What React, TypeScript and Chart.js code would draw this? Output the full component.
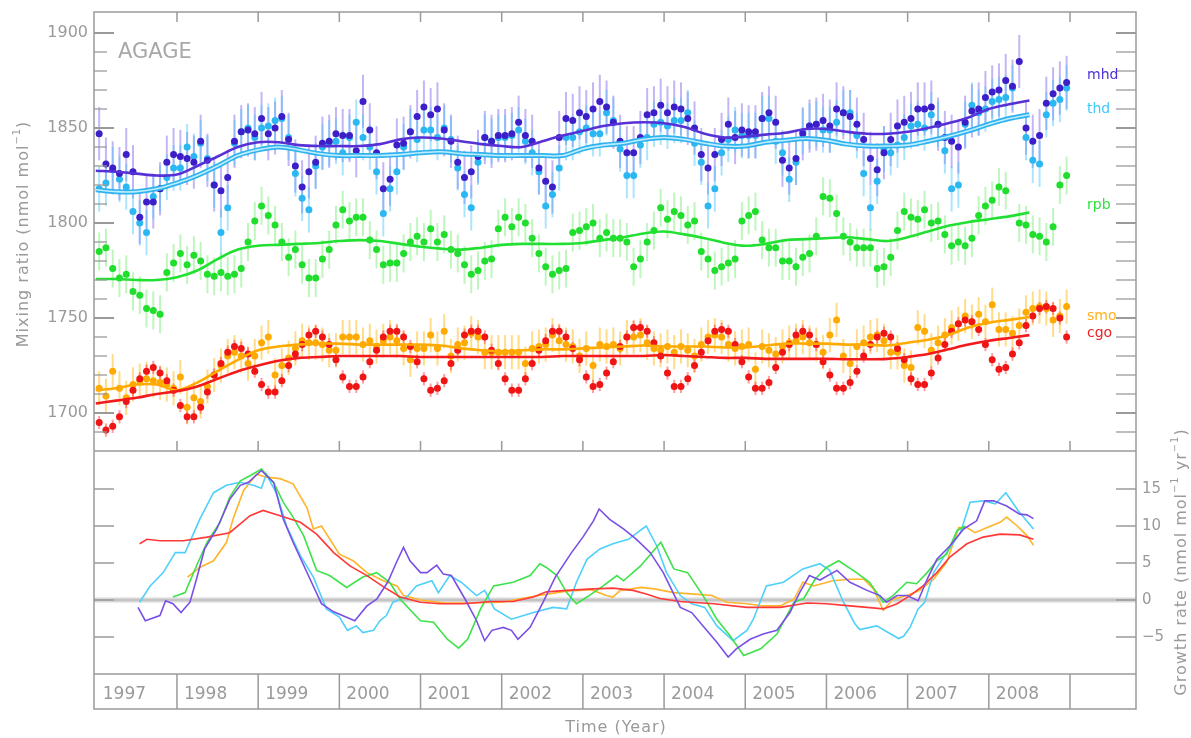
import React, { useEffect, useRef } from 'react';
import { Chart, registerables } from 'chart.js';
Chart.register(...registerables);

// ---------- data ----------
const years = [1997, 1998, 1999, 2000, 2001, 2002, 2003, 2004, 2005, 2006, 2007, 2008];
const stationNames = ['mhd', 'thd', 'rpb', 'smo', 'cgo'];

const mhd = [
  1847, 1831, 1829, 1826, 1836, 1827, 1803, 1811, 1811, 1818, 1832, 1836,
  1835, 1834, 1832, 1843, 1833, 1820, 1817, 1824, 1843, 1848, 1849, 1847,
  1855, 1847, 1850, 1856, 1844, 1830, 1819, 1827, 1832, 1842, 1843, 1847,
  1846, 1846, 1838, 1864, 1849, 1837, 1818, 1823, 1841, 1842, 1848, 1856,
  1861, 1857, 1860, 1849, 1843, 1832, 1824, 1827, 1835, 1845, 1843, 1846,
  1846, 1847, 1853, 1846, 1843, 1829, 1822, 1819, 1845, 1855, 1854, 1858,
  1856, 1860, 1864, 1861, 1853, 1843, 1837, 1837, 1845, 1857, 1858, 1862,
  1858, 1861, 1860, 1855, 1850, 1836, 1829, 1836, 1844, 1852, 1845, 1849,
  1848, 1848, 1855, 1858, 1853, 1833, 1829, 1834, 1847, 1851, 1852, 1854,
  1851, 1860, 1858, 1856, 1852, 1844, 1834, 1828, 1837, 1844, 1851, 1853,
  1855, 1860, 1860, 1861, 1852, 1845, 1843, 1840, 1853, 1859, 1860, 1866,
  1869, 1870, 1875, 1872, 1885, 1850, 1843, 1846, 1863, 1868, 1871, 1874,
];
const thd = [
  1818, 1821, 1828, 1823, 1819, 1806, 1800, 1795, 1814, 1818, 1824, 1829,
  1829, 1840, 1835, 1842, 1834, 1820, 1795, 1808, 1842, 1848, 1850, 1845,
  1850, 1851, 1854, 1855, 1845, 1826, 1813, 1807, 1830, 1840, 1842, 1843,
  1837, 1845, 1853, 1845, 1840, 1827, 1805, 1818, 1827, 1840, 1848, 1844,
  1849, 1849, 1845, 1850, 1844, 1829, 1815, 1808, 1832, 1845, 1843, 1845,
  1845, 1846, 1849, 1843, 1837, 1827, 1809, 1815, 1829, 1845, 1845, 1848,
  1850, 1847, 1847, 1858, 1854, 1839, 1825, 1825, 1841, 1845, 1852, 1853,
  1851, 1854, 1854, 1858, 1842, 1832, 1809, 1818, 1837, 1844, 1849, 1846,
  1846, 1846, 1855, 1855, 1843, 1837, 1823, 1832, 1848, 1851, 1852, 1849,
  1849, 1853, 1858, 1858, 1846, 1826, 1808, 1822, 1839, 1837, 1841, 1845,
  1851, 1852, 1850, 1857, 1852, 1838, 1818, 1820, 1852, 1862, 1858, 1860,
  1864, 1865, 1866, 1871, null, 1845, 1833, 1831, 1857, 1863, 1865, 1871,
];
const rpb = [
  1785, 1787, 1776, 1771, 1773, 1764, 1762, 1755, 1754, 1752, 1774, 1779,
  1784, 1778, 1783, 1780, 1773, 1772, 1774, 1772, 1773, 1776, 1790, 1801,
  1809, 1804, 1799, 1790, 1782, 1786, 1778, 1771, 1771, 1781, 1786, 1799,
  1807, 1801, 1803, 1803, 1791, 1786, 1778, 1779, 1779, 1784, 1790, 1793,
  1790, 1797, 1790, 1794, 1786, 1784, 1778, 1773, 1775, 1780, 1781, 1797,
  1803, 1798, 1803, 1800, 1792, 1784, 1777, 1773, 1775, 1776, 1795, 1796,
  1798, 1800, 1792, 1795, 1792, 1792, 1790, 1777, 1781, 1790, 1796, 1808,
  1802, 1806, 1804, 1799, 1801, 1785, 1781, 1775, 1777, 1779, 1781, 1801,
  1804, 1806, 1791, 1787, 1787, 1780, 1780, 1777, 1782, 1784, 1793, 1814,
  1813, 1805, 1793, 1790, 1787, 1787, 1787, 1776, 1777, 1782, 1796, 1806,
  1803, 1802, 1807, 1800, 1801, 1794, 1788, 1790, 1788, 1792, 1804, 1809,
  1812, 1819, 1817, null, 1800, 1799, 1794, 1793, 1790, 1798, 1820, 1825,
];
const smo = [
  1713, 1709, 1722, 1713, 1708, 1715, 1717, 1718, 1717, 1716, 1715, 1713,
  1719, 1703, 1708, 1706, 1714, 1720, 1725, 1730, 1732, 1730, 1726, 1730,
  1737, 1740, 1720, 1725, 1729, 1734, 1738, 1737, 1737, 1736, 1733, 1733,
  1740, 1740, 1740, 1736, 1738, 1735, 1738, 1740, 1738, 1734, 1728, 1734,
  1734, 1741, 1734, 1743, 1730, 1736, 1737, 1742, 1740, 1732, 1732, 1732,
  1732, 1732, 1732, 1726, 1734, 1735, 1736, 1741, 1738, 1736, 1735, 1730,
  1734, 1725, 1736, 1735, 1736, 1734, 1740, 1740, 1741, 1737, 1734, 1733,
  1735, 1732, 1735, 1733, 1730, 1736, 1740, 1741, 1740, 1736, 1734, 1735,
  1736, 1723, 1735, 1733, 1731, 1735, 1737, 1738, 1740, 1737, 1736, 1732,
  1741, 1749, 1730, 1726, 1735, 1737, 1740, 1741, 1738, 1732, 1732, 1725,
  1724, 1745, 1743, 1733, 1737, 1741, 1745, 1747, 1751, 1748, 1752, 1748,
  1757, 1744, 1744, 1742, 1746, 1753, 1755, 1756, 1755, 1749, 1751, 1756,
];
const cgo = [
  1695, 1691, 1693, 1698, 1706, 1712, 1718, 1722, 1724, 1721, 1717, 1712,
  1704, 1698, 1698, 1703, 1711, 1720, 1726, 1732, 1735, 1734, 1731, 1722,
  1715, 1711, 1711, 1717, 1725, 1731, 1736, 1741, 1743, 1740, 1736, 1728,
  1719, 1714, 1714, 1719, 1727, 1733, 1740, 1743, 1743, 1740, 1735, 1727,
  1718, 1712, 1713, 1717, 1726, 1733, 1741, 1743, 1743, 1740, 1733, 1726,
  1718, 1712, 1712, 1718, 1726, 1733, 1738, 1743, 1743, 1740, 1734, 1728,
  1719, 1714, 1715, 1721, 1727, 1735, 1740, 1745, 1745, 1743, 1737, 1730,
  1721, 1714, 1714, 1718, 1725, 1732, 1738, 1743, 1744, 1743, 1736, 1727,
  1719, 1713, 1713, 1716, 1724, 1732, 1736, 1741, 1743, 1741, 1736, 1727,
  1720, 1713, 1713, 1716, 1722, 1730, 1736, 1740, 1742, 1740, 1734, 1728,
  1718, 1715, 1715, 1721, 1729, 1736, 1743, 1747, 1749, 1748, 1744, 1736,
  1728, 1723, 1724, 1731, 1737, 1746, 1751, 1755, 1756, 1755, 1750, 1740,
];
// half-length of the error bars (nmol/mol) per station
const errHalf = [14, 12, 10, 9, 3.5];

// smoothed trend curves, quarterly from 1997.0 to 2008.5
const trendMhd = [1827.5, 1827, 1826, 1825, 1825.5, 1830, 1835, 1840, 1842.5, 1842.5, 1841, 1840.5,
  1840.5, 1840.5, 1841.5, 1844, 1845, 1844.5, 1843, 1841.5, 1840.5, 1840, 1843, 1846,
  1848.5, 1851, 1852.5, 1853, 1852.5, 1850.5, 1847, 1845, 1845.5, 1846.5, 1847.5, 1849.5,
  1849.5, 1848, 1847, 1847, 1848, 1850, 1852.5, 1855.5, 1860, 1862.5, 1864.5];
const trendThd = [1817.5, 1816.5, 1816.5, 1818, 1821, 1825, 1830, 1835.5, 1838.5, 1840, 1838.5, 1836.5,
  1835.5, 1835.5, 1835.5, 1836, 1837, 1837.5, 1836.5, 1836, 1835.5, 1835.5, 1835.5, 1835.5,
  1839, 1841, 1842, 1844, 1845, 1844, 1842, 1840.5, 1840.5, 1842.5, 1843.5, 1844.5,
  1843.5, 1841.5, 1840.5, 1840.5, 1841, 1843, 1845.5, 1848.5, 1852, 1855, 1857];
const trendRpb = [1770.5, 1770.5, 1770, 1770, 1771.5, 1775, 1781, 1786, 1788, 1788.5, 1789, 1789.5,
  1790.5, 1791, 1790.5, 1789, 1787.5, 1786.5, 1786, 1787, 1788.5, 1789, 1789, 1789,
  1789.5, 1791, 1792.5, 1794.5, 1795.5, 1794, 1792, 1789.5, 1788, 1789, 1791, 1791.5,
  1792, 1792.5, 1791.5, 1790.5, 1792.5, 1795.5, 1798.5, 1800.5, 1802, 1803.5, 1805.5];
const trendSmo = [1712, 1713, 1715, 1715, 1712, 1716, 1722, 1728, 1733, 1735, 1736, 1736.5,
  1736.5, 1736, 1736, 1736, 1736, 1735.5, 1734, 1733, 1732.5, 1733, 1733.5, 1733.5,
  1734, 1734.5, 1735, 1735.5, 1735, 1735, 1735, 1734.5, 1734.5, 1735.5, 1736.5, 1736.5,
  1736.5, 1736, 1736, 1735.5, 1737, 1738.5, 1741, 1745, 1747.5, 1749, 1750.5];
const trendCgo = [1705, 1706.5, 1708, 1710, 1711.5, 1714, 1718, 1722, 1725, 1727.5, 1729, 1729.5,
  1730, 1730, 1730, 1730, 1729.5, 1729.5, 1729.5, 1729.5, 1729.5, 1729.5, 1729.5, 1730,
  1730, 1730, 1730, 1730, 1730.5, 1730, 1729.5, 1729, 1729, 1728.5, 1728.5, 1728.5,
  1728.5, 1728.3, 1728.3, 1728.5, 1729.5, 1731, 1733.5, 1736, 1738, 1739.5, 1741];

// growth rates [year, nmol/mol/yr]
const growthMhd = [[1997.52,-1.0],[1997.61,-2.8],[1997.79,-2.1],[1997.86,-0.1],[1997.95,-0.5],[1998.05,-1.7],[1998.16,-0.3],[1998.24,2.8],[1998.34,6.9],[1998.49,9.6],[1998.65,13.6],[1998.78,15.5],[1998.88,15.9],[1999.04,17.5],[1999.19,15.9],[1999.31,10.9],[1999.43,7.8],[1999.64,2.8],[1999.78,-0.5],[1999.93,-1.6],[2000.19,-2.8],[2000.34,-0.8],[2000.46,0.1],[2000.6,2.5],[2000.7,5.0],[2000.79,7.1],[2000.87,5.3],[2001.0,3.7],[2001.08,3.7],[2001.2,4.7],[2001.28,3.5],[2001.38,3.3],[2001.55,0.1],[2001.69,-2.8],[2001.79,-5.5],[2001.88,-4.1],[2002.02,-3.7],[2002.12,-4.1],[2002.2,-5.3],[2002.35,-3.7],[2002.51,-0.3],[2002.66,3.1],[2002.86,6.4],[2003.0,8.5],[2003.13,10.7],[2003.2,12.3],[2003.33,10.9],[2003.5,9.6],[2003.66,8.2],[2003.83,6.4],[2003.99,3.7],[2004.2,-1.0],[2004.34,-1.7],[2004.48,-3.5],[2004.65,-5.7],[2004.79,-7.7],[2004.89,-6.6],[2005.06,-5.3],[2005.22,-4.6],[2005.39,-4.1],[2005.55,-1.7],[2005.67,1.0],[2005.79,3.3],[2005.92,2.7],[2006.13,4.0],[2006.29,2.4],[2006.5,1.3],[2006.66,0.6],[2006.74,-0.3],[2006.87,0.6],[2006.99,0.6],[2007.13,-0.1],[2007.24,2.8],[2007.36,5.5],[2007.52,7.3],[2007.69,9.6],[2007.85,10.7],[2007.95,13.4],[2008.06,13.4],[2008.22,12.7],[2008.38,11.6],[2008.47,11.5],[2008.55,11.0]];
const growthThd = [[1997.54,-0.3],[1997.67,1.9],[1997.83,3.7],[1997.98,6.4],[1998.1,6.4],[1998.28,10.9],[1998.45,14.5],[1998.61,15.5],[1998.78,15.9],[1998.94,15.5],[1999.04,15.1],[1999.1,17.0],[1999.23,14.3],[1999.35,10.0],[1999.52,6.0],[1999.68,3.1],[1999.84,-1.2],[2000.0,-2.3],[2000.1,-4.1],[2000.21,-3.5],[2000.29,-4.4],[2000.42,-4.1],[2000.5,-2.8],[2000.58,-2.1],[2000.66,-0.3],[2000.75,0.1],[2000.83,0.4],[2000.95,1.9],[2001.14,2.6],[2001.22,1.0],[2001.36,3.3],[2001.5,2.4],[2001.69,0.6],[2001.79,1.3],[2001.91,-1.2],[2002.12,-2.6],[2002.39,-1.7],[2002.63,-1.0],[2002.8,-1.2],[2002.92,2.4],[2003.05,5.5],[2003.21,6.9],[2003.37,7.6],[2003.56,8.2],[2003.78,10.0],[2003.91,7.3],[2004.03,3.7],[2004.2,0.6],[2004.34,-0.5],[2004.5,-1.0],[2004.65,-3.5],[2004.85,-5.5],[2005.02,-4.1],[2005.1,-2.6],[2005.26,1.9],[2005.47,2.4],[2005.71,4.2],[2005.92,4.9],[2006.04,4.0],[2006.21,-0.3],[2006.35,-3.2],[2006.41,-4.0],[2006.62,-3.5],[2006.76,-4.4],[2006.89,-5.2],[2006.95,-4.9],[2007.03,-3.7],[2007.13,-1.2],[2007.21,-0.3],[2007.32,3.7],[2007.48,6.4],[2007.65,9.1],[2007.77,13.2],[2007.93,13.4],[2008.08,13.0],[2008.21,14.5],[2008.36,12.1],[2008.55,9.6]];
const growthRpb = [[1997.95,0.4],[1998.1,1.0],[1998.24,4.6],[1998.37,7.8],[1998.53,10.5],[1998.65,13.9],[1998.78,16.1],[1998.9,16.8],[1999.04,17.7],[1999.19,15.9],[1999.31,13.2],[1999.43,11.2],[1999.56,8.7],[1999.72,4.0],[1999.88,3.3],[2000.09,1.7],[2000.29,3.1],[2000.46,3.7],[2000.62,2.4],[2000.75,0.1],[2001.0,-2.8],[2001.16,-3.0],[2001.33,-5.3],[2001.47,-6.5],[2001.58,-5.3],[2001.74,-1.2],[2001.9,1.9],[2002.14,2.4],[2002.35,3.3],[2002.47,4.9],[2002.55,4.4],[2002.68,3.3],[2002.8,1.0],[2002.92,-0.5],[2003.05,0.4],[2003.25,1.9],[2003.42,3.3],[2003.5,2.6],[2003.71,4.6],[2003.96,7.8],[2004.12,4.2],[2004.29,3.7],[2004.48,0.6],[2004.65,-2.6],[2004.81,-4.8],[2004.98,-7.5],[2005.19,-6.6],[2005.39,-4.6],[2005.6,-0.3],[2005.72,0.2],[2005.86,2.8],[2006.0,4.4],[2006.15,5.3],[2006.37,3.7],[2006.53,2.4],[2006.7,-0.3],[2006.82,0.6],[2006.99,2.4],[2007.11,2.2],[2007.24,3.7],[2007.36,5.3],[2007.48,6.2],[2007.61,9.4],[2007.71,10.0]];
const growthSmo = [[1998.13,3.1],[1998.28,4.4],[1998.45,5.3],[1998.61,7.8],[1998.69,10.9],[1998.82,14.8],[1998.98,17.0],[1999.1,16.6],[1999.27,16.4],[1999.43,15.7],[1999.6,12.5],[1999.68,9.6],[1999.78,10.0],[2000.0,6.2],[2000.17,5.3],[2000.34,3.7],[2000.54,2.6],[2000.71,1.9],[2000.79,0.6],[2001.0,0.0],[2001.3,-0.4],[2001.6,-0.4],[2002.0,-0.3],[2002.4,0.5],[2002.8,1.2],[2003.1,1.4],[2003.29,0.6],[2003.37,0.4],[2003.46,1.3],[2003.6,1.5],[2003.71,1.7],[2003.88,1.5],[2004.12,1.0],[2004.37,0.8],[2004.59,0.6],[2004.77,-0.3],[2005.02,-0.5],[2005.22,-0.8],[2005.43,-0.8],[2005.6,0.1],[2005.71,2.4],[2005.84,1.9],[2006.08,2.6],[2006.29,2.8],[2006.46,2.8],[2006.58,1.5],[2006.7,-1.4],[2006.82,0.1],[2006.99,0.6],[2007.15,1.3],[2007.32,2.8],[2007.48,5.1],[2007.63,9.8],[2007.73,9.8],[2007.83,9.1],[2007.98,9.8],[2008.14,10.5],[2008.22,11.2],[2008.35,10.0],[2008.47,8.7],[2008.55,7.4]];
const growthCgo = [[1997.54,7.6],[1997.63,8.2],[1997.79,8.0],[1998.08,8.0],[1998.37,8.5],[1998.65,9.1],[1998.9,11.4],[1999.06,12.1],[1999.27,11.4],[1999.52,10.5],[1999.72,8.9],[1999.93,6.4],[2000.13,4.6],[2000.34,3.3],[2000.54,1.8],[2000.75,0.4],[2001.0,-0.3],[2001.24,-0.5],[2001.53,-0.5],[2001.86,-0.2],[2002.14,-0.2],[2002.39,0.4],[2002.55,1.1],[2002.8,1.3],[2003.13,1.5],[2003.37,1.6],[2003.62,1.3],[2003.78,0.8],[2003.95,0.2],[2004.2,-0.2],[2004.61,-0.5],[2005.02,-1.0],[2005.43,-1.0],[2005.76,-0.4],[2006.0,-0.5],[2006.29,-0.8],[2006.5,-1.0],[2006.7,-1.2],[2006.87,-0.5],[2007.03,0.6],[2007.19,1.9],[2007.36,3.7],[2007.52,5.8],[2007.73,7.6],[2007.93,8.5],[2008.14,8.9],[2008.38,8.8],[2008.55,8.2]];

const mixTicks = [1700, 1750, 1800, 1850, 1900];
const growthTicks = [-5, 0, 5, 10, 15];

// ---------- styling ----------
const pointColors = ['#3d1fc9', '#2bb8f2', '#1fde2c', '#ffaa00', '#f01414'];
const errColors = ['rgba(125,90,235,0.45)', 'rgba(70,195,250,0.45)', 'rgba(70,230,70,0.35)', 'rgba(255,185,20,0.5)', 'rgba(255,60,60,0.5)'];
const trendColors = ['#5730d6', '#2fb2ee', '#22e032', '#ffaa00', '#f21a1a'];
const growthColors = ['#7a4fe6', '#4fd0fa', '#3de24a', '#ffb42a', '#ff3838'];
const labelColors = ['#4d2fd8', '#40c8f8', '#30e040', '#ffb020', '#f02020'];
const labelY = [75, 109, 205, 316, 333];
const GREY = '#9a9a9a';
const FONT = '"DejaVu Sans", sans-serif';

const monthX = years.flatMap((yr) => Array.from({ length: 12 }, (_, m) => yr + (m + 0.5) / 12));
const trendX = trendMhd.map((_, k) => 1997 + k * 0.25);

const toPts = (vals) => vals.map((v, i) => ({ x: monthX[i], y: v }));
const toTrend = (vals) => vals.map((v, i) => ({ x: trendX[i], y: v }));
const toGrowth = (pairs) => pairs.map((p) => ({ x: p[0], y: p[1] }));

function richText(ctx, parts, x, y, rot, size) {
  ctx.save();
  ctx.translate(x, y);
  ctx.rotate(rot);
  ctx.textBaseline = 'middle';
  ctx.textAlign = 'left';
  ctx.letterSpacing = '1px';
  let total = 0;
  parts.forEach((p) => {
    ctx.font = `${p.sup ? size * 0.62 : size}px ${FONT}`;
    total += ctx.measureText(p.t).width;
  });
  let cx = -total / 2;
  parts.forEach((p) => {
    ctx.font = `${p.sup ? size * 0.62 : size}px ${FONT}`;
    ctx.fillText(p.t, cx, p.sup ? -size * 0.38 : 0);
    cx += ctx.measureText(p.t).width;
  });
  ctx.restore();
}

const decorPlugin = {
  id: 'decor',
  beforeDatasetsDraw(chart) {
    const ctx = chart.ctx;
    const xs = chart.scales.x;
    const ys = chart.scales.y;
    const yg = chart.scales.yg;
    const a = chart.chartArea;
    ctx.save();
    // zero line of growth panel
    const y0 = yg.getPixelForValue(0);
    ctx.strokeStyle = '#d8d8d8';
    ctx.lineWidth = 5;
    ctx.beginPath(); ctx.moveTo(a.left, y0); ctx.lineTo(a.right, y0); ctx.stroke();
    ctx.strokeStyle = '#b0b0b0';
    ctx.lineWidth = 1;
    ctx.beginPath(); ctx.moveTo(a.left, y0); ctx.lineTo(a.right, y0); ctx.stroke();
    // error bars
    chart.data.datasets.forEach((ds) => {
      if (ds.errHalf == null) return;
      ctx.strokeStyle = ds.errColor;
      ctx.lineWidth = 2;
      ds.data.forEach((p) => {
        if (p.y == null) return;
        const px = xs.getPixelForValue(p.x);
        ctx.beginPath();
        ctx.moveTo(px, ys.getPixelForValue(p.y - ds.errHalf));
        ctx.lineTo(px, ys.getPixelForValue(p.y + ds.errHalf));
        ctx.stroke();
      });
    });
    ctx.restore();
  },
  afterDraw(chart) {
    const ctx = chart.ctx;
    const xs = chart.scales.x;
    const ys = chart.scales.y;
    const yg = chart.scales.yg;
    const a = chart.chartArea;
    const L = a.left, R = a.right, T = a.top;
    const mid = ys.getPixelForValue(1680);
    const B = yg.getPixelForValue(-10);
    const SB = B + 35;
    ctx.save();
    ctx.strokeStyle = GREY;
    ctx.fillStyle = GREY;
    ctx.lineWidth = 1.5;
    // frames
    ctx.strokeRect(L, T, R - L, SB - T);
    ctx.beginPath(); ctx.moveTo(L, mid); ctx.lineTo(R, mid); ctx.stroke();
    ctx.beginPath(); ctx.moveTo(L, B); ctx.lineTo(R, B); ctx.stroke();
    // top panel y ticks
    for (let v = 1690; v <= 1900; v += 10) {
      const y = ys.getPixelForValue(v);
      const major = v % 50 === 0;
      ctx.lineWidth = major ? 2 : 1.3;
      ctx.beginPath(); ctx.moveTo(L, y); ctx.lineTo(L + (major ? 20 : 13), y); ctx.stroke();
      ctx.beginPath(); ctx.moveTo(R, y); ctx.lineTo(R - 20, y); ctx.stroke();
    }
    // growth panel ticks
    growthTicks.forEach((v) => {
      const y = yg.getPixelForValue(v);
      ctx.lineWidth = 1.5;
      ctx.beginPath(); ctx.moveTo(L, y); ctx.lineTo(L + 20, y); ctx.stroke();
      ctx.beginPath(); ctx.moveTo(R, y); ctx.lineTo(R - 20, y); ctx.stroke();
    });
    // year ticks and strip
    ctx.lineWidth = 1.5;
    for (let yr = 1998; yr <= 2009; yr++) {
      const x = xs.getPixelForValue(yr);
      ctx.beginPath(); ctx.moveTo(x, T); ctx.lineTo(x, T + 10); ctx.stroke();
      ctx.beginPath(); ctx.moveTo(x, mid); ctx.lineTo(x, mid - 10); ctx.stroke();
      ctx.beginPath(); ctx.moveTo(x, B); ctx.lineTo(x, SB); ctx.stroke();
    }
    ctx.textBaseline = 'middle';
    ctx.textAlign = 'left';
    ctx.font = `17px ${FONT}`;
    years.forEach((yr) => {
      ctx.fillText(String(yr), xs.getPixelForValue(yr) + 7, (B + SB) / 2 + 3);
    });
    // y labels
    ctx.font = `16px ${FONT}`;
    ctx.textAlign = 'right';
    mixTicks.forEach((v) => ctx.fillText(String(v), L - 6, ys.getPixelForValue(v)));
    ctx.textAlign = 'left';
    ctx.font = `15px ${FONT}`;
    growthTicks.forEach((v) => ctx.fillText(v < 0 ? '\u2212' + Math.abs(v) : String(v), R + 6, yg.getPixelForValue(v)));
    // AGAGE
    ctx.font = `21px ${FONT}`;
    ctx.fillStyle = '#a8a8a8';
    ctx.fillText('AGAGE', 118, 53);
    // station labels
    ctx.font = `14px ${FONT}`;
    stationNames.forEach((n, i) => {
      ctx.fillStyle = labelColors[i];
      ctx.fillText(n, 1087, labelY[i]);
    });
    // axis titles
    ctx.fillStyle = GREY;
    richText(ctx, [{ t: 'Mixing ratio (nmol mol' }, { t: '\u22121', sup: true }, { t: ')' }], 24, 234, -Math.PI / 2, 16);
    richText(ctx, [{ t: 'Growth rate (nmol mol' }, { t: '\u22121', sup: true }, { t: ' yr' }, { t: '\u22121', sup: true }, { t: ')' }], 1182, 562, -Math.PI / 2, 16);
    ctx.font = `16px ${FONT}`;
    ctx.textAlign = 'center';
    ctx.letterSpacing = '1px';
    ctx.fillText('Time (Year)', 616, 728);
    ctx.restore();
  },
};

export default function App() {
  const ref = useRef(null);
  useEffect(() => {
    const series = [mhd, thd, rpb, smo, cgo];
    const trends = [trendMhd, trendThd, trendRpb, trendSmo, trendCgo];
    const growth = [growthMhd, growthThd, growthRpb, growthSmo, growthCgo];
    const pointOrder = [22, 23, 24, 21, 20];
    const trendOrder = [12, 11, 13, 15, 14];
    const growthOrder = [1, 4, 3, 5, 2];
    const datasets = [];
    series.forEach((s, i) => {
      datasets.push({
        data: toPts(s), yAxisID: 'y', showLine: false, pointRadius: 3.5, pointBorderWidth: 0,
        pointBackgroundColor: pointColors[i], borderColor: pointColors[i], order: pointOrder[i],
        errHalf: errHalf[i], errColor: errColors[i],
      });
      datasets.push({
        data: toTrend(trends[i]), yAxisID: 'y', pointRadius: 0, borderWidth: i === 1 ? 5 : 2.6,
        borderColor: trendColors[i], tension: 0.35, order: trendOrder[i],
      });
      datasets.push({
        data: toGrowth(growth[i]), yAxisID: 'yg', pointRadius: 0, borderWidth: 1.6,
        borderColor: growthColors[i], tension: 0, order: growthOrder[i],
      });
    });
    // light core of the thd trend (double-line look)
    datasets.push({
      data: toTrend(trendThd), yAxisID: 'y', pointRadius: 0, borderWidth: 1.6,
      borderColor: '#bdeeff', tension: 0.35, order: 10,
    });
    const chart = new Chart(ref.current, {
      type: 'line',
      data: { datasets },
      options: {
        responsive: false,
        animation: false,
        events: [],
        layout: { padding: { left: 94, right: 55, top: 12, bottom: 64 } },
        plugins: { legend: { display: false }, tooltip: { enabled: false } },
        scales: {
          x: { type: 'linear', min: 1996.978, max: 2009.813, display: false },
          y: { type: 'linear', min: 1562.63, max: 1911.05, display: false },
          yg: { type: 'linear', min: -10, max: 79.46, display: false },
        },
      },
      plugins: [decorPlugin],
    });
    return () => chart.destroy();
  }, []);
  return (
    <div style={{ position: 'absolute', left: 0, top: 0, width: 1191, height: 738, background: '#fff' }}>
      <canvas ref={ref} width={1191} height={738} style={{ display: 'block' }} />
    </div>
  );
}
